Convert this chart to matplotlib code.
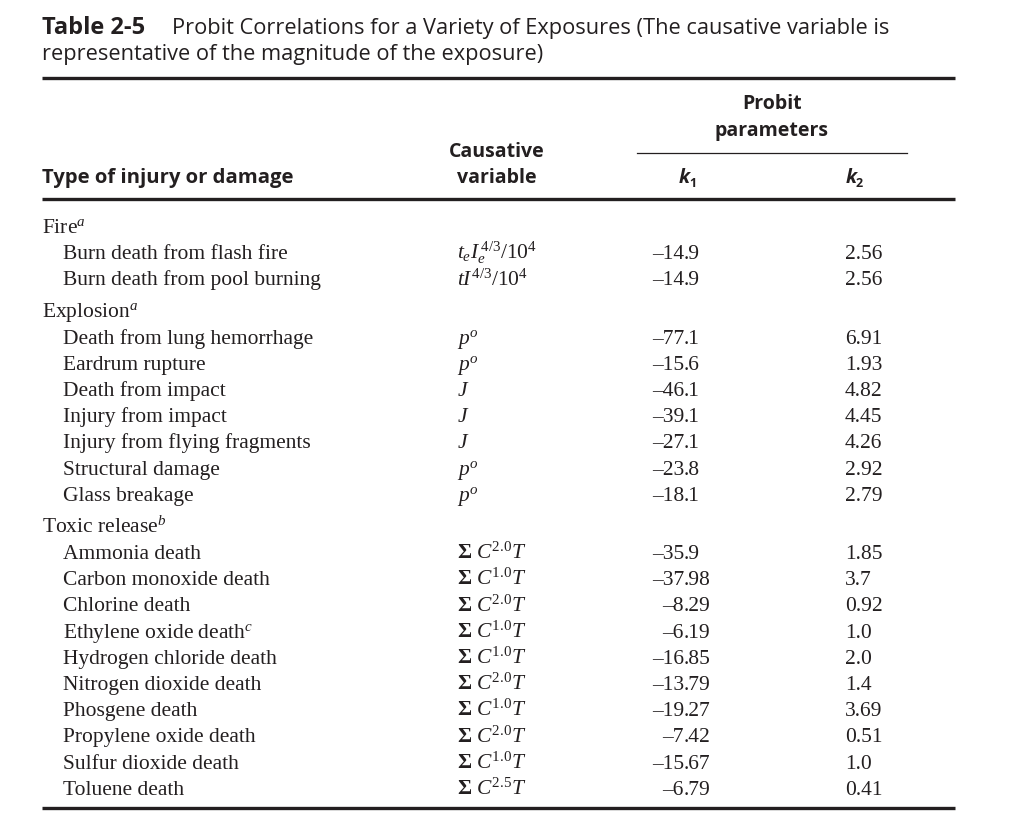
import matplotlib
matplotlib.use("Agg")
import matplotlib.pyplot as plt

plt.rcParams['mathtext.fontset'] = 'custom'
plt.rcParams['mathtext.rm'] = 'Liberation Serif'
plt.rcParams['mathtext.it'] = 'Liberation Serif:italic'
plt.rcParams['mathtext.bf'] = 'Liberation Serif:bold'

# ---- table content ----
title_bold = "Table 2-5"
title_rest = "Probit Correlations for a Variety of Exposures (The causative variable is"
title_line2 = "representative of the magnitude of the exposure)"

groups = ["Fire", "Explosion", "Toxic release"]
group_notes = ["a", "a", "b"]

injuries = [
    ["Burn death from flash fire", "Burn death from pool burning"],
    ["Death from lung hemorrhage", "Eardrum rupture", "Death from impact",
     "Injury from impact", "Injury from flying fragments", "Structural damage",
     "Glass breakage"],
    ["Ammonia death", "Carbon monoxide death", "Chlorine death",
     "Ethylene oxide death$^c$", "Hydrogen chloride death", "Nitrogen dioxide death",
     "Phosgene death", "Propylene oxide death", "Sulfur dioxide death", "Toluene death"],
]

causes = [
    [r"$t_eI_e^{\,4/3}/10^4$", r"$tI^{4/3}/10^4$"],
    [r"$p^o$", r"$p^o$", r"$J$", r"$J$", r"$J$", r"$p^o$", r"$p^o$"],
    [r"$\mathbf{\Sigma}\ C^{2.0}T$", r"$\mathbf{\Sigma}\ C^{1.0}T$", r"$\mathbf{\Sigma}\ C^{2.0}T$",
     r"$\mathbf{\Sigma}\ C^{1.0}T$", r"$\mathbf{\Sigma}\ C^{1.0}T$", r"$\mathbf{\Sigma}\ C^{2.0}T$",
     r"$\mathbf{\Sigma}\ C^{1.0}T$", r"$\mathbf{\Sigma}\ C^{2.0}T$", r"$\mathbf{\Sigma}\ C^{1.0}T$",
     r"$\mathbf{\Sigma}\ C^{2.5}T$"],
]

k1 = [
    ["-14.9", "-14.9"],
    ["-77.1", "-15.6", "-46.1", "-39.1", "-27.1", "-23.8", "-18.1"],
    ["-35.9", "-37.98", "-8.29", "-6.19", "-16.85", "-13.79", "-19.27", "-7.42",
     "-15.67", "-6.79"],
]

k2 = [
    ["2.56", "2.56"],
    ["6.91", "1.93", "4.82", "4.45", "4.26", "2.92", "2.79"],
    ["1.85", "3.7", "0.92", "1.0", "2.0", "1.4", "3.69", "0.51", "1.0", "0.41"],
]

ink = '#231f20'
sans = 'Open Sans'
serif = 'Liberation Serif'

fig = plt.figure(figsize=(10.09, 8.23), dpi=100)
ax = fig.add_axes([0, 0, 1, 1])
ax.set_xlim(0, 1009)
ax.set_ylim(823, 0)
ax.axis('off')

# title
ax.text(42, 34, title_bold, fontfamily=sans, fontweight='bold', fontsize=17, color=ink, va='baseline')
ax.text(172, 34, title_rest, fontfamily=sans, fontsize=15.7, color=ink, va='baseline')
ax.text(42, 60, title_line2, fontfamily=sans, fontsize=15.7, color=ink, va='baseline')

# rules
x0, x1 = 42, 955
ax.plot([x0, x1], [78, 78], color=ink, lw=2.4, solid_capstyle='butt')
ax.plot([x0, x1], [199, 199], color=ink, lw=2.4, solid_capstyle='butt')
ax.plot([x0, x1], [808, 808], color=ink, lw=2.4, solid_capstyle='butt')
ax.plot([637, 907], [153, 153], color=ink, lw=0.9)

# header
hkw = dict(fontfamily=sans, fontweight='bold', fontsize=14, color=ink, va='baseline')
ax.text(772, 109, "Probit", ha='center', **hkw)
ax.text(772, 136, "parameters", ha='center', **hkw)
ax.text(497, 157, "Causative", ha='center', **hkw)
ax.text(497, 183, "variable", ha='center', **hkw)
ax.text(42, 183, "Type of injury or damage", ha='left', fontstretch='normal',
        **{k: v for k, v in hkw.items() if k != 'fontsize'}, fontsize=14.6)
ax.text(679, 183, "k", ha='left', fontstyle='italic', **hkw)
ax.text(689, 187, "1", ha='left', fontfamily=sans, fontweight='bold', fontsize=9, color=ink, va='baseline')
ax.text(846, 183, "k", ha='left', fontstyle='italic', **hkw)
ax.text(856, 187, "2", ha='left', fontfamily=sans, fontweight='bold', fontsize=9, color=ink, va='baseline')

# body
bkw = dict(fontfamily=serif, fontsize=15.5, color=ink, va='baseline')
step = 26.2
gap = 5.8
x_grp, x_item, x_cause, x_dec, x_k2 = 42, 63, 457, 684, 845
y = 233
for g, note, names, cs, a, b in zip(groups, group_notes, injuries, causes, k1, k2):
    ax.text(x_grp, y, g + "$^{" + note + "}$", ha='left', **bkw)
    y += step
    for name, c, v1, v2 in zip(names, cs, a, b):
        ax.text(x_item, y, name, ha='left', **bkw)
        ax.text(x_cause, y, c, ha='left', **bkw)
        ip, fp = v1.split(".")
        ax.text(x_dec, y, ip.replace("-", "\u2013"), ha='right', **bkw)
        ax.text(x_dec, y, "." + fp, ha='left', **bkw)
        ax.text(x_k2, y, v2, ha='left', **bkw)
        y += step
    y += gap

fig.savefig("out.png", dpi=100, facecolor='white')
